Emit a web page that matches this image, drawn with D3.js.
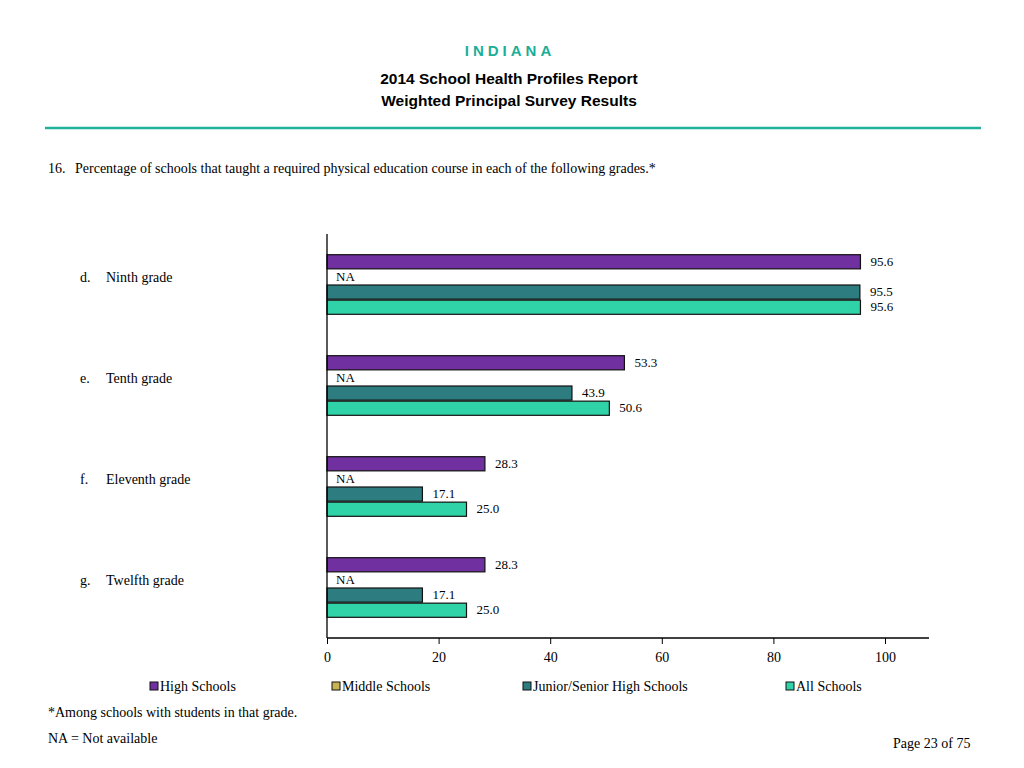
<!DOCTYPE html>
<html><head><meta charset="utf-8">
<script src="https://cdn.jsdelivr.net/npm/d3@7"></script>
<style>body{margin:0;background:#fff}</style>
</head><body>
<svg id="c" width="1024" height="768"></svg>
<script>
const categories = ["Ninth grade","Tenth grade","Eleventh grade","Twelfth grade"];
const letters = ["d.","e.","f.","g."];
const series = ["High Schools","Middle Schools","Junior/Senior High Schools","All Schools"];
const highSchools = [95.6, 53.3, 28.3, 28.3];
const middleSchools = [null, null, null, null];
const juniorSenior = [95.5, 43.9, 17.1, 17.1];
const allSchools = [95.6, 50.6, 25.0, 25.0];
const colors = ["#7030A0","#C8B454","#2C7C80","#30D3A8"];
const xTicks = [0,20,40,60,80,100];

const values = [highSchools, middleSchools, juniorSenior, allSchools];
const svg = d3.select("#c");
const serif = "'Liberation Serif','Times New Roman',serif";
const sans = "'Liberation Sans',Arial,sans-serif";

// Header
svg.append("text").attr("x",510).attr("y",56).attr("text-anchor","middle")
  .attr("font-family",sans).attr("font-weight","bold").attr("font-size",15)
  .attr("letter-spacing","4px").attr("fill","#1AAE98").text("INDIANA");
svg.append("text").attr("x",509).attr("y",84).attr("text-anchor","middle")
  .attr("font-family",sans).attr("font-weight","bold").attr("font-size",15.5).text("2014 School Health Profiles Report");
svg.append("text").attr("x",509).attr("y",106).attr("text-anchor","middle")
  .attr("font-family",sans).attr("font-weight","bold").attr("font-size",15.5).text("Weighted Principal Survey Results");
svg.append("line").attr("x1",45).attr("x2",981).attr("y1",128).attr("y2",128)
  .attr("stroke","#22B29C").attr("stroke-width",2.5);
svg.append("text").attr("x",48).attr("y",173).attr("font-family",serif).attr("font-size",14).text("16.");
svg.append("text").attr("x",75).attr("y",173).attr("font-family",serif).attr("font-size",14)
  .text("Percentage of schools that taught a required physical education course in each of the following grades.*");

const x = d3.scaleLinear().domain([0,100]).range([327,885]);
const y = d3.scaleBand().domain(categories).range([234,638]).paddingInner(0.4).paddingOuter(0.2);
const ys = d3.scaleBand().domain(series).range([0,y.bandwidth()]);

// Bars
categories.forEach((c,ci)=>{
  const g = svg.append("g").attr("transform",`translate(0,${y(c)})`);
  series.forEach((s,si)=>{
    const v = values[si][ci];
    const yy = ys(s);
    if(v==null){
      g.append("text").attr("x",x(0)+9).attr("y",yy+ys.bandwidth()/2+4)
        .attr("font-family",serif).attr("font-size",13).text("NA");
    } else {
      g.append("rect").attr("x",x(0)).attr("y",yy+0.5).attr("width",x(v)-x(0))
        .attr("height",ys.bandwidth()-1).attr("fill",colors[si]).attr("stroke","#111").attr("stroke-width",1.2);
      g.append("text").attr("x",x(v)+10).attr("y",yy+ys.bandwidth()/2+4)
        .attr("font-family",serif).attr("font-size",13).text(v.toFixed(1));
    }
  });
  const cy = y(c)+y.bandwidth()/2-3;
  svg.append("text").attr("x",80).attr("y",cy).attr("font-family",serif).attr("font-size",14).text(letters[ci]);
  svg.append("text").attr("x",106).attr("y",cy).attr("font-family",serif).attr("font-size",14).text(c);
});

// Axes
svg.append("line").attr("x1",327).attr("x2",327).attr("y1",234).attr("y2",638).attr("stroke","#000").attr("stroke-width",1.3);
const ax = svg.append("g").attr("transform","translate(0,638)")
  .call(d3.axisBottom(x).tickValues(xTicks).tickSize(6).tickSizeOuter(0).tickFormat(d3.format("d")));
ax.select(".domain").remove();
ax.append("line").attr("x1",327).attr("x2",929).attr("stroke","#000").attr("stroke-width",1.3);
ax.selectAll(".tick line").attr("stroke","#000");
ax.selectAll(".tick text").attr("font-family",serif).attr("font-size",14).attr("fill","#000").attr("dy","1.05em");

// Legend
const legX = [150,332,523,786];
series.forEach((s,i)=>{
  svg.append("rect").attr("x",legX[i]).attr("y",682).attr("width",8).attr("height",8)
    .attr("fill",colors[i]).attr("stroke","#111").attr("stroke-width",1);
  svg.append("text").attr("x",legX[i]+10).attr("y",691).attr("font-family",serif).attr("font-size",14).text(s);
});

// Footnotes
svg.append("text").attr("x",48).attr("y",717).attr("font-family",serif).attr("font-size",14).text("*Among schools with students in that grade.");
svg.append("text").attr("x",48).attr("y",743).attr("font-family",serif).attr("font-size",14).text("NA = Not available");
svg.append("text").attr("x",893).attr("y",748).attr("font-family",serif).attr("font-size",14).text("Page 23 of 75");
</script>
</body></html>
